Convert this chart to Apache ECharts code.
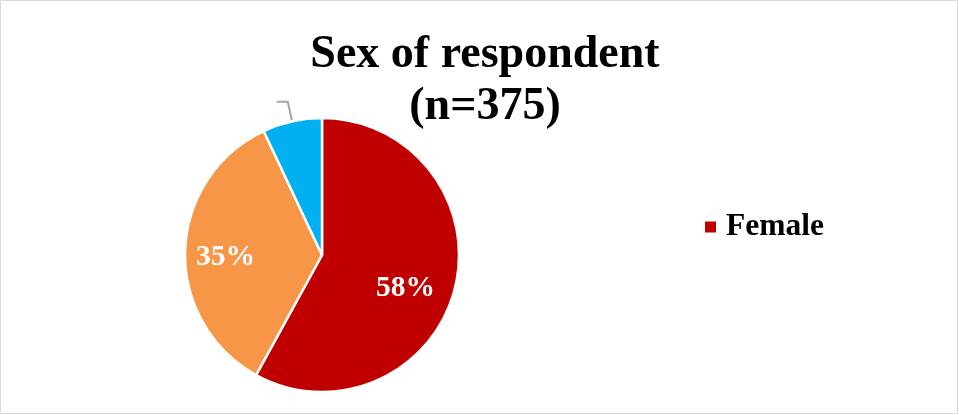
<!DOCTYPE html>
<html>
<head>
<meta charset="utf-8">
<script src="https://cdn.jsdelivr.net/npm/echarts@6/dist/echarts.min.js"></script>
<style>
  html, body { margin: 0; padding: 0; background: #fff; }
  #chart { width: 959px; height: 415px; }
</style>
</head>
<body>
<div id="chart"></div>
<script>
// Respondents by sex (share of n=375)
const categories = ['Female', 'Male', 'Other'];
const shares = [58, 35, 7];
const colors = ['#C00000', '#F79646', '#00B0F0'];
const legendItems = ['Female'];
const titleLines = ['Sex of respondent', '(n=375)'];

const FONT = '"Liberation Serif", "DejaVu Serif", serif';
const center = [322, 255];
const radius = 137;

// small nudges for the percentage labels
const labelShift = [{ dx: -7, dy: 10 }, { dx: -3, dy: 5 }, { dx: 0, dy: 0 }];

const chart = echarts.init(document.getElementById('chart'), null, { renderer: 'canvas' });

const sliceData = categories.map((name, i) => {
  const item = { name, value: shares[i], itemStyle: { color: colors[i] } };
  if (i === 2) {
    // small slice: leader line with a blank label
    item.label = { show: true, position: 'outside', formatter: ' ', fontSize: 14 };
    item.labelLine = { show: true, length: 20, length2: 11, smooth: false,
      lineStyle: { color: '#A6A6A6', width: 2 } };
  }
  return item;
});

// percentage labels placed on a ring so they sit toward the rim
const labelData = categories.map((name, i) => ({
  name: name + ' ',
  value: shares[i],
  itemStyle: { color: 'rgba(0,0,0,0)' },
  label: { show: i < 2 }
}));

chart.setOption({
  animation: false,
  title: {
    text: titleLines.join('\n'),
    left: 480,
    textAlign: 'center',
    top: 24,
    textStyle: { fontFamily: FONT, fontWeight: 'bold', fontSize: 46, lineHeight: 52, color: '#000' }
  },
  legend: {
    data: legendItems,
    orient: 'vertical',
    left: 700,
    top: 206,
    icon: 'rect',
    itemWidth: 11,
    itemHeight: 11,
    itemGap: 8,
    itemStyle: { borderWidth: 0 },
    textStyle: { fontFamily: FONT, fontWeight: 'bold', fontSize: 31.5, color: '#000', padding: [0, 0, 0, 5] }
  },
  graphic: [{
    type: 'rect',
    shape: { x: 0.5, y: 0.5, width: 957, height: 413 },
    style: { fill: 'none', stroke: '#D9D9D9', lineWidth: 1 },
    silent: true
  }],
  series: [
    {
      type: 'pie',
      center: center,
      radius: [0, radius],
      startAngle: 90,
      clockwise: true,
      itemStyle: { borderColor: '#fff', borderWidth: 2.5 },
      label: { show: false },
      labelLine: { show: false },
      emphasis: { disabled: true },
      data: sliceData
    },
    {
      type: 'pie',
      center: center,
      radius: [44, radius],
      startAngle: 90,
      clockwise: true,
      silent: true,
      legendHoverLink: false,
      label: {
        show: true,
        position: 'inside',
        formatter: '{c}%',
        color: '#fff',
        fontFamily: FONT,
        fontWeight: 'bold',
        fontSize: 29.5
      },
      labelLayout: (params) => labelShift[params.dataIndex],
      labelLine: { show: false },
      emphasis: { disabled: true },
      data: labelData
    }
  ]
});
</script>
</body>
</html>
